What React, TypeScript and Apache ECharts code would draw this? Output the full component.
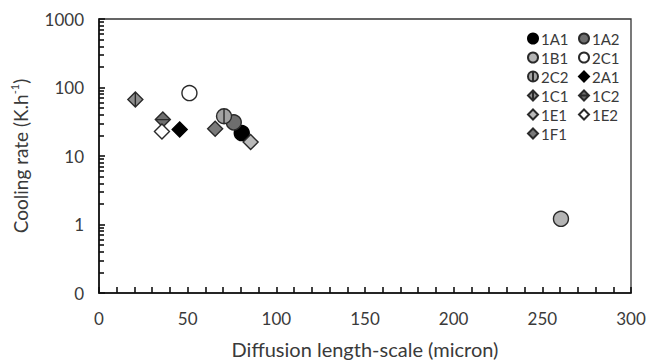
import React, { useEffect, useRef } from "react";
import * as echarts from "echarts";

const seriesNames = ["1A1", "1A2", "1B1", "2C1", "2C2", "2A1", "1C1", "1C2", "1E1", "1E2", "1F1"];
const xValues = [80.5, 76, 260.5, 51, 70.5, 45.5, 20.5, 36, 85.5, 35.5, 65.5];
const yValues = [21.6, 31, 1.21, 83, 38, 24.4, 67, 34, 16, 22.8, 25];
const fills = ["#000000", "#6e6e6e", "#b4b4b4", "#ffffff", "#a3a3a3", "#000000", "#8e8e8e", "#6f6f6f", "#bababa", "#ffffff", "#7a7a7a"];
const xTicks = [0, 50, 100, 150, 200, 250, 300];
const yRange = [0.1, 1000];

const CIRCLE_V = "path://M10,0 A10,10 0 1,1 10,20 A10,10 0 1,1 10,0 Z M10,0 L10,20";
const DIAMOND_V = "path://M10,0 L20,10 L10,20 L0,10 Z M10,0 L10,20";
const DIAMOND_H = "path://M10,0 L20,10 L10,20 L0,10 Z M0,10 L20,10";
const symbols = ["circle", "circle", "circle", "circle", CIRCLE_V, "diamond", DIAMOND_V, DIAMOND_H, "diamond", "diamond", "diamond"];

const FONT = "Lato";
const TEXT = "#3a3a3a";
const AXIS = "#111";

export default function App() {
  const ref = useRef<HTMLDivElement>(null);
  useEffect(() => {
    if (!ref.current) return;
    const chart = echarts.init(ref.current, undefined, { renderer: "svg" });
    const series = seriesNames.map((name, i) => ({
      type: "scatter",
      name,
      data: [[xValues[i], yValues[i]]],
      symbol: symbols[i],
      symbolSize: 15,
      itemStyle: { color: fills[i], borderColor: i === 0 || i === 5 ? "#000" : "#2a2a2a", borderWidth: 1.4, opacity: 1 },
      z: 3,
    }));
    const legendCommon = {
      orient: "vertical",
      itemWidth: 10,
      itemHeight: 10,
      itemGap: 4,
      textStyle: { fontFamily: FONT, fontSize: 15, color: TEXT, padding: [0, 0, 0, -2] },
      padding: 0,
      selectedMode: false,
    };
    chart.setOption({
      animation: false,
      textStyle: { fontFamily: FONT },
      grid: { left: 99, right: 18, top: 19, bottom: 68, show: true, borderColor: "#333", borderWidth: 1.3, backgroundColor: "transparent" },
      legend: [
        { ...legendCommon, left: 527, top: 31, data: [0, 2, 4, 6, 8, 10].map((k) => seriesNames[k]) },
        { ...legendCommon, left: 578, top: 31, data: [1, 3, 5, 7, 9].map((k) => seriesNames[k]) },
      ],
      xAxis: {
        type: "value",
        min: xTicks[0],
        max: xTicks[xTicks.length - 1],
        interval: 50,
        name: "Diffusion length-scale (micron)",
        nameLocation: "middle",
        nameGap: 46,
        nameTextStyle: { fontFamily: FONT, fontSize: 20, color: TEXT },
        axisLine: { show: true, lineStyle: { color: AXIS, width: 1.6 } },
        axisTick: { show: true, inside: true, length: 6, lineStyle: { color: AXIS, width: 1.6 } },
        minorTick: { show: true, splitNumber: 5, length: 6, lineStyle: { color: AXIS, width: 1.6 } },
        axisLabel: { fontFamily: FONT, fontSize: 17, color: TEXT, margin: 17 },
        splitLine: { show: false },
      },
      yAxis: {
        type: "log",
        logBase: 10,
        min: yRange[0],
        max: yRange[1],
        name: "{a|Cooling rate (K.h}{s|-1}{a|)}",
        nameLocation: "middle",
        nameGap: 68,
        nameRotate: 90,
        nameTextStyle: {
          fontFamily: FONT,
          color: TEXT,
          rich: {
            a: { fontFamily: FONT, fontSize: 19, color: TEXT, lineHeight: 22 },
            s: { fontFamily: FONT, fontSize: 11, color: TEXT, verticalAlign: "top", lineHeight: 22 },
          },
        },
        axisLine: { show: true, lineStyle: { color: AXIS, width: 1.6 } },
        axisTick: { show: true, inside: true, length: 6, lineStyle: { color: AXIS, width: 1.6 } },
        minorTick: { show: true, splitNumber: 9, length: 5, lineStyle: { color: AXIS, width: 1.6 } },
        axisLabel: {
          fontFamily: FONT,
          fontSize: 17,
          color: TEXT,
          margin: 15,
          formatter: (v: number) => String(Math.round(v)),
        },
        splitLine: { show: false },
      },
      series,
    });
    return () => chart.dispose();
  }, []);
  return <div ref={ref} style={{ width: 649, height: 364, position: "absolute", left: 0, top: 0 }} />;
}
